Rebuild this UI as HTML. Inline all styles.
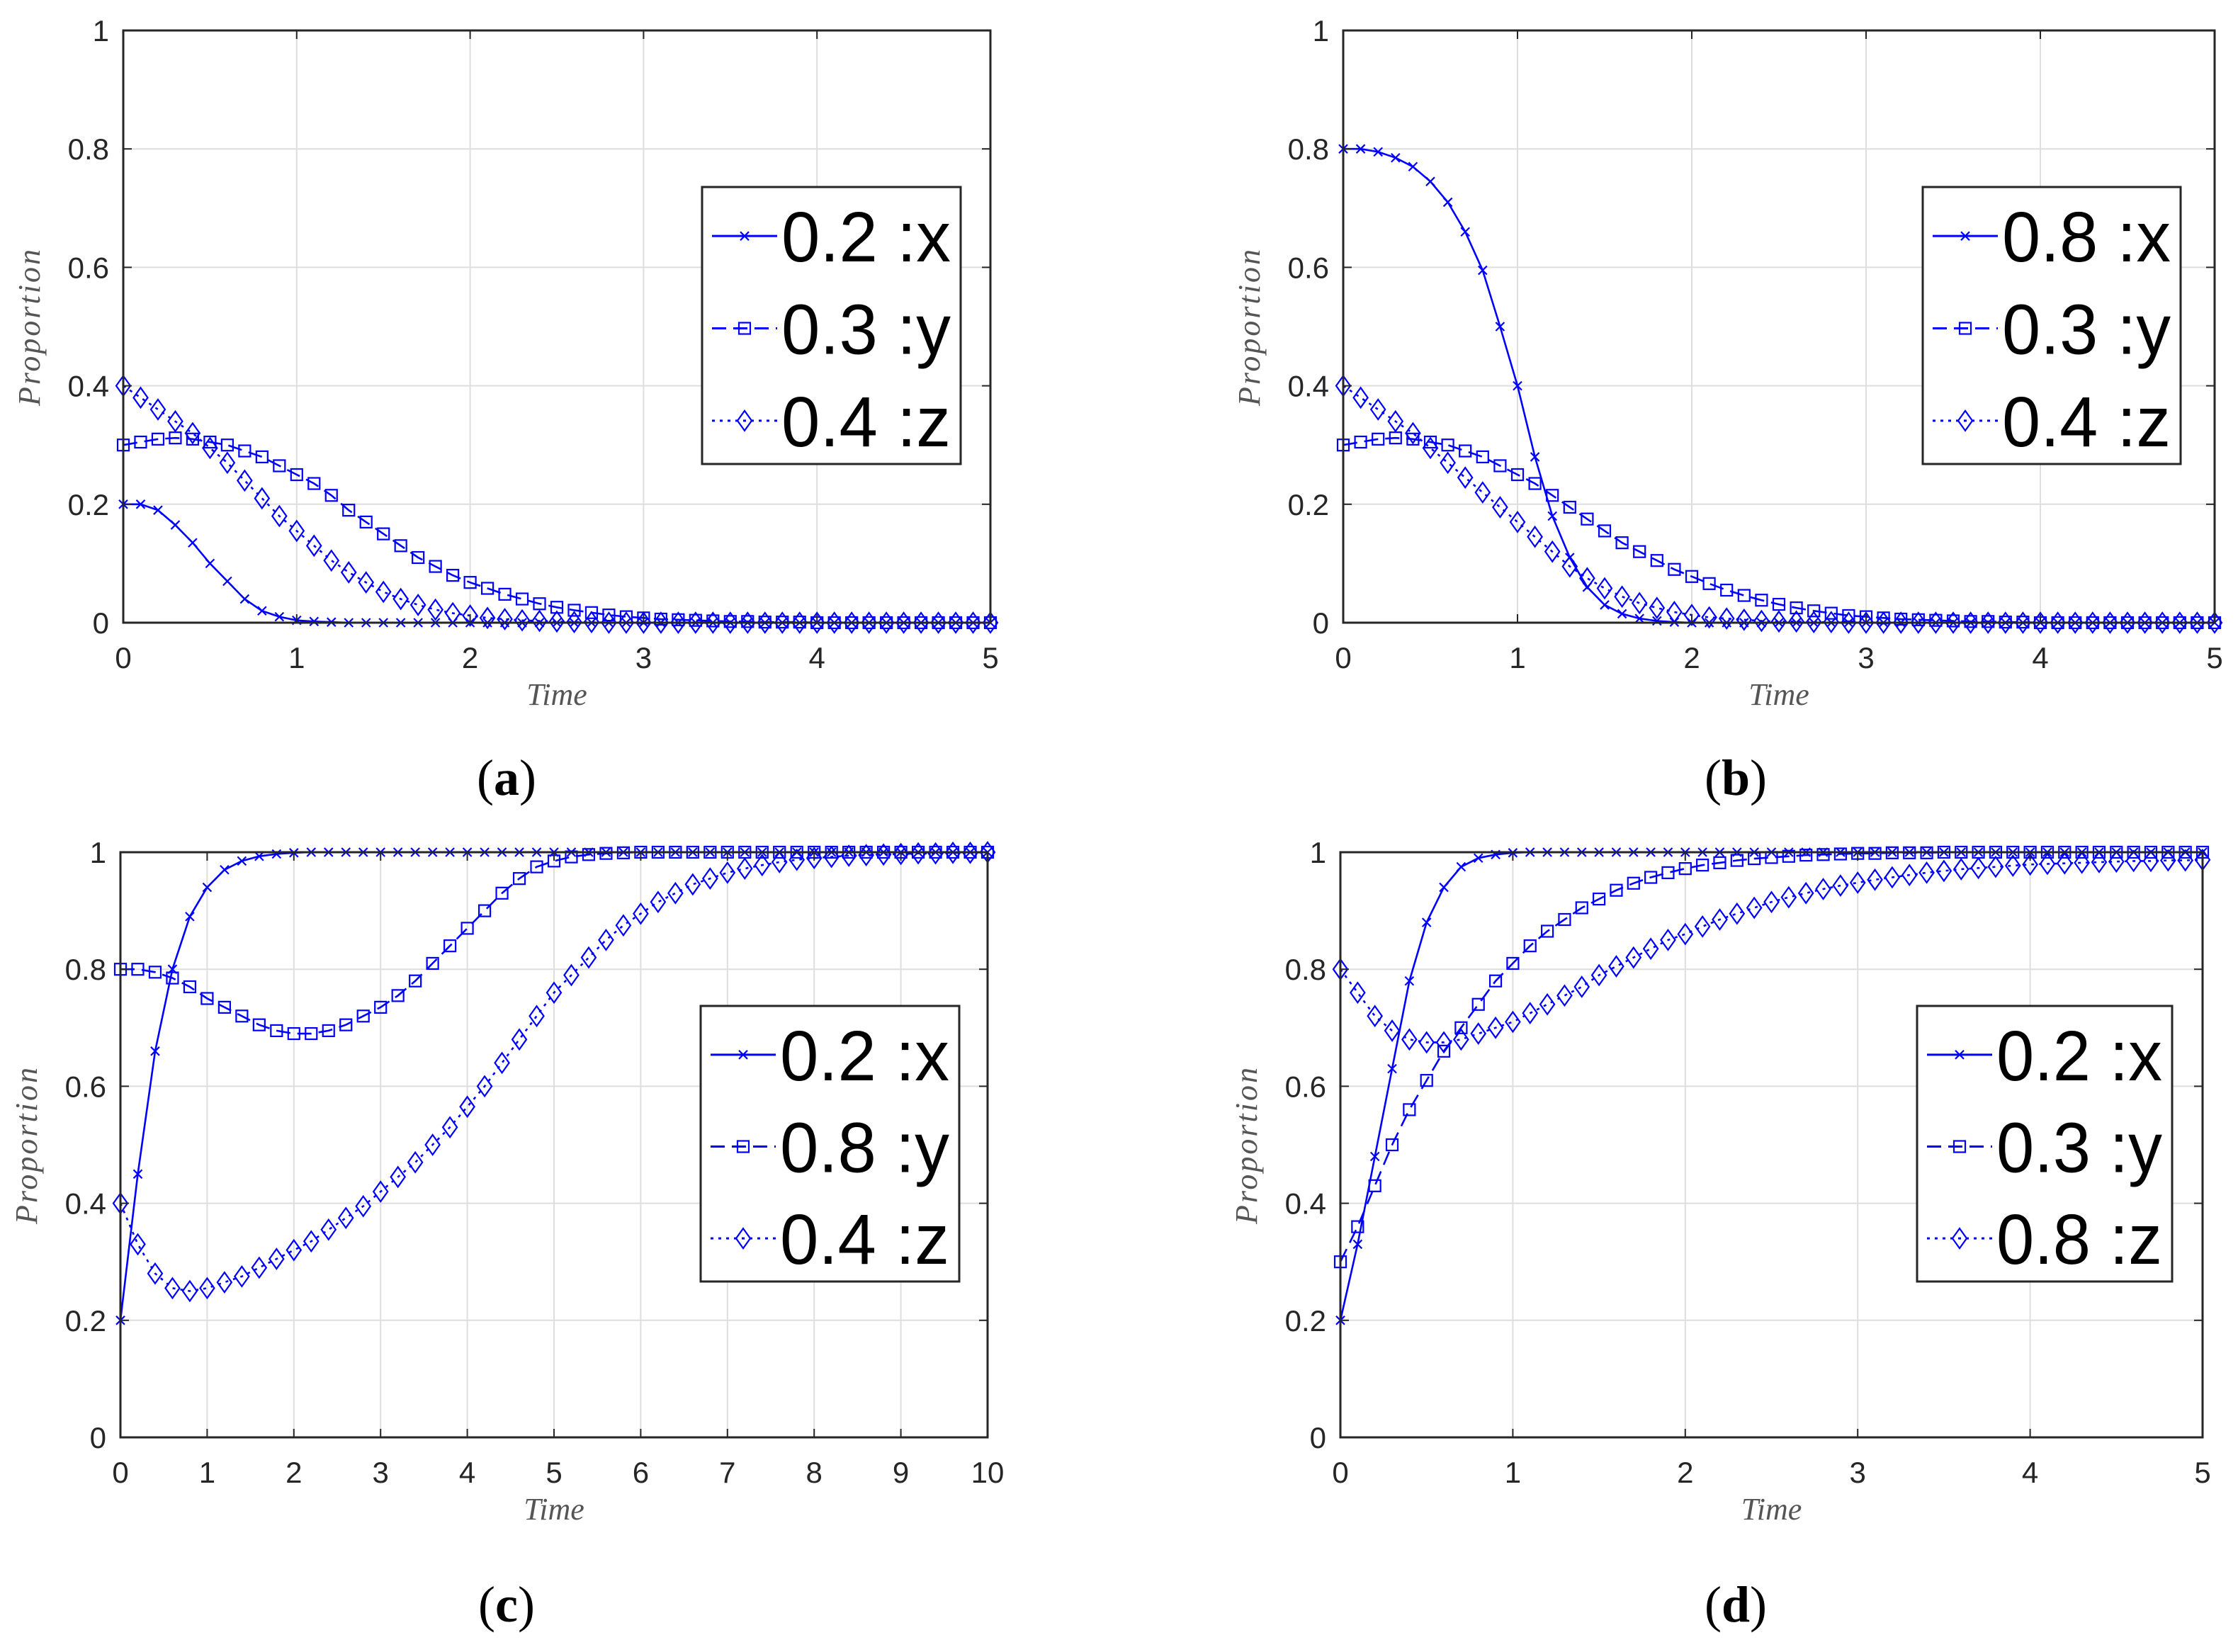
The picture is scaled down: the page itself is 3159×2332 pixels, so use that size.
<!DOCTYPE html>
<html><head><meta charset="utf-8"><style>
html,body{margin:0;padding:0;background:#fff;}
svg{display:block;}
</style></head><body>
<svg id="fig" xmlns="http://www.w3.org/2000/svg" width="3159" height="2332" viewBox="0 0 3159 2332"></svg>
<script>
// ---- data ----
const timeStepAB = 0.1;
const timeStepC = 0.2;
const aLegend = ["0.2 :x", "0.3 :y", "0.4 :z"];
const bLegend = ["0.8 :x", "0.3 :y", "0.4 :z"];
const cLegend = ["0.2 :x", "0.8 :y", "0.4 :z"];
const dLegend = ["0.2 :x", "0.3 :y", "0.8 :z"];
const yTicks = [0, 0.2, 0.4, 0.6, 0.8, 1];
const yTickLabels = ["0", "0.2", "0.4", "0.6", "0.8", "1"];
const xTicks5 = [0, 1, 2, 3, 4, 5];
const xTicks10 = [0, 1, 2, 3, 4, 5, 6, 7, 8, 9, 10];

const aX = [0.2,0.2,0.19,0.165,0.135,0.1,0.07,0.04,0.02,0.01, 0.004,0.002,0.001,0,0,0,0,0,0,0, 0,0,0,0,0,0,0,0,0,0, 0,0,0,0,0,0,0,0,0,0, 0,0,0,0,0,0,0,0,0,0, 0];
const aY = [0.30,0.305,0.31,0.312,0.31,0.305,0.30,0.29,0.28,0.265, 0.25,0.235,0.215,0.19,0.17,0.15,0.13,0.11,0.095,0.08, 0.068,0.058,0.048,0.04,0.032,0.026,0.021,0.017,0.013,0.01, 0.008,0.006,0.005,0.004,0.003,0.002,0.002,0.001,0.001,0.001, 0,0,0,0,0,0,0,0,0,0, 0];
const aZ = [0.40,0.38,0.36,0.34,0.32,0.295,0.27,0.24,0.21,0.18, 0.155,0.13,0.105,0.085,0.068,0.052,0.04,0.03,0.022,0.016, 0.012,0.008,0.006,0.004,0.003,0.002,0.001,0.001,0,0, 0,0,0,0,0,0,0,0,0,0, 0,0,0,0,0,0,0,0,0,0, 0];

const bX = [0.8,0.8,0.795,0.785,0.77,0.745,0.71,0.66,0.595,0.50, 0.40,0.28,0.18,0.11,0.06,0.03,0.015,0.007,0.003,0.001, 0,0,0,0,0,0,0,0,0,0, 0,0,0,0,0,0,0,0,0,0, 0,0,0,0,0,0,0,0,0,0, 0];
const bY = [0.30,0.305,0.31,0.312,0.31,0.305,0.30,0.29,0.28,0.265, 0.25,0.235,0.215,0.195,0.175,0.155,0.135,0.12,0.105,0.09, 0.078,0.066,0.055,0.046,0.038,0.031,0.025,0.02,0.016,0.012, 0.01,0.008,0.006,0.005,0.004,0.003,0.002,0.002,0.001,0.001, 0,0,0,0,0,0,0,0,0,0, 0];
const bZ = [0.40,0.38,0.36,0.34,0.32,0.295,0.27,0.245,0.22,0.195, 0.17,0.145,0.12,0.095,0.075,0.058,0.044,0.033,0.025,0.018, 0.013,0.009,0.007,0.005,0.003,0.002,0.002,0.001,0.001,0, 0,0,0,0,0,0,0,0,0,0, 0,0,0,0,0,0,0,0,0,0, 0];

const cX = [0.2,0.45,0.66,0.80,0.89,0.94,0.97,0.985,0.993,0.997, 0.999,1,1,1,1,1,1,1,1,1, 1,1,1,1,1,1,1,1,1,1, 1,1,1,1,1,1,1,1,1,1, 1,1,1,1,1,1,1,1,1,1, 1];
const cY = [0.80,0.80,0.795,0.785,0.77,0.75,0.735,0.72,0.705,0.695, 0.69,0.69,0.695,0.705,0.72,0.735,0.755,0.78,0.81,0.84, 0.87,0.90,0.93,0.955,0.975,0.985,0.992,0.996,0.998,0.999, 1,1,1,1,1,1,1,1,1,1, 1,1,1,1,1,1,1,1,1,1, 1];
const cZ = [0.40,0.33,0.28,0.255,0.25,0.255,0.265,0.275,0.29,0.305, 0.32,0.335,0.355,0.375,0.395,0.42,0.445,0.47,0.50,0.53, 0.565,0.60,0.64,0.68,0.72,0.76,0.79,0.82,0.85,0.875, 0.895,0.915,0.93,0.945,0.955,0.965,0.972,0.978,0.983,0.987, 0.99,0.992,0.994,0.995,0.996,0.997,0.998,0.998,0.999,0.999, 1];

const dX = [0.2,0.33,0.48,0.63,0.78,0.88,0.94,0.975,0.99,0.996, 0.999,1,1,1,1,1,1,1,1,1, 1,1,1,1,1,1,1,1,1,1, 1,1,1,1,1,1,1,1,1,1, 1,1,1,1,1,1,1,1,1,1, 1];
const dY = [0.30,0.36,0.43,0.50,0.56,0.61,0.66,0.70,0.74,0.78, 0.81,0.84,0.865,0.885,0.905,0.92,0.935,0.947,0.957,0.965, 0.972,0.978,0.982,0.986,0.989,0.991,0.993,0.995,0.996,0.997, 0.998,0.998,0.999,0.999,0.999,1,1,1,1,1, 1,1,1,1,1,1,1,1,1,1, 1];
const dZ = [0.80,0.76,0.72,0.695,0.68,0.675,0.675,0.68,0.69,0.70, 0.71,0.725,0.74,0.755,0.77,0.79,0.805,0.82,0.835,0.85, 0.86,0.873,0.885,0.895,0.905,0.915,0.923,0.93,0.937,0.943, 0.948,0.953,0.957,0.961,0.965,0.968,0.971,0.973,0.975,0.977, 0.979,0.98,0.981,0.982,0.983,0.984,0.985,0.985,0.986,0.986, 0.987];

// ---- drawing ----
const NS = "http://www.w3.org/2000/svg";
const svg = document.getElementById("fig");
const BLUE = "#0000ff";
function mk(tag, attrs, parent) {
  const e = document.createElementNS(NS, tag);
  for (const k in attrs) e.setAttribute(k, attrs[k]);
  (parent || svg).appendChild(e);
  return e;
}
function marker(g, kind, x, y) {
  let m;
  if (kind === "x") {
    m = mk("path", {d: `M${x-6},${y-6}L${x+6},${y+6}M${x-6},${y+6}L${x+6},${y-6}`, stroke: BLUE, "stroke-width": 2.2, fill: "none"}, g);
  } else if (kind === "s") {
    m = mk("rect", {x: x-8, y: y-8, width: 16, height: 16, stroke: BLUE, "stroke-width": 2.2, fill: "none"}, g);
  } else {
    m = mk("path", {d: `M${x},${y-14}L${x+10},${y}L${x},${y+14}L${x-10},${y}Z`, stroke: BLUE, "stroke-width": 2.2, fill: "none"}, g);
  }
  
  
}
const styles = [
  {kind: "x", dash: null},
  {kind: "s", dash: "20,10"},
  {kind: "d", dash: "4,7"}
];
function panel(id, box, xMax, xTicks, step, series, legendText, legendBox, caption) {
  const g = mk("g", {});
  
  
  const sx = v => box.L + (v / xMax) * (box.R - box.L);
  const sy = v => box.B - v * (box.B - box.T);
  // grid
  xTicks.forEach(t => {
    if (t > 0 && t < xMax) {
      const l = mk("line", {x1: sx(t), x2: sx(t), y1: box.T, y2: box.B, stroke: "#dedede", "stroke-width": 2}, g);
      
      
    }
  });
  yTicks.forEach(t => {
    if (t > 0 && t < 1) {
      const l = mk("line", {x1: box.L, x2: box.R, y1: sy(t), y2: sy(t), stroke: "#dedede", "stroke-width": 2}, g);
      
      
    }
  });
  // series lines + markers
  series.forEach((vals, si) => {
    const pts = vals.map((v, i) => `${sx(i * step).toFixed(1)},${sy(v).toFixed(1)}`).join(" ");
    const pl = mk("polyline", {points: pts, fill: "none", stroke: BLUE, "stroke-width": 2.6}, g);
    if (styles[si].dash) pl.setAttribute("stroke-dasharray", styles[si].dash);
    
    
    vals.forEach((v, i) => marker(g, styles[si].kind, sx(i * step), sy(v)));
  });
  // axes box
  const frame = mk("rect", {x: box.L, y: box.T, width: box.R - box.L, height: box.B - box.T, fill: "none", stroke: "#262626", "stroke-width": 3}, g);
  
  
  // ticks and labels
  xTicks.forEach(t => {
    mk("line", {x1: sx(t), x2: sx(t), y1: box.B, y2: box.B - 12, stroke: "#262626", "stroke-width": 2}, g);
    mk("line", {x1: sx(t), x2: sx(t), y1: box.T, y2: box.T + 12, stroke: "#262626", "stroke-width": 2}, g);
    const tx = mk("text", {x: sx(t), y: box.B + 64, "text-anchor": "middle", "font-family": "Liberation Sans, sans-serif", "font-size": 42, fill: "#262626"}, g);
    tx.textContent = String(t);
    
    
  });
  yTicks.forEach((t, i) => {
    mk("line", {x1: box.L, x2: box.L + 12, y1: sy(t), y2: sy(t), stroke: "#262626", "stroke-width": 2}, g);
    mk("line", {x1: box.R, x2: box.R - 12, y1: sy(t), y2: sy(t), stroke: "#262626", "stroke-width": 2}, g);
    const ty = mk("text", {x: box.L - 20, y: sy(t) + 15, "text-anchor": "end", "font-family": "Liberation Sans, sans-serif", "font-size": 42, fill: "#262626"}, g);
    ty.textContent = yTickLabels[i];
    
    
  });
  // axis titles
  const xt = mk("text", {x: (box.L + box.R) / 2, y: box.B + 116, "text-anchor": "middle", "font-family": "Liberation Serif, serif", "font-style": "italic", "font-size": 44, fill: "#555"}, g);
  xt.textContent = "Time";
  
  
  const yx = box.L - 118, yy = (box.T + box.B) / 2;
  const yt = mk("text", {x: yx, y: yy, transform: `rotate(-90 ${yx} ${yy})`, "text-anchor": "middle", "font-family": "Liberation Serif, serif", "font-style": "italic", "font-size": 44, fill: "#555", "letter-spacing": 3}, g);
  yt.textContent = "Proportion";
  
  
  // legend
  const lg = mk("g", {}, g);
  
  
  mk("rect", {x: legendBox.x, y: legendBox.y, width: legendBox.w, height: legendBox.h, fill: "#fff", stroke: "#262626", "stroke-width": 3}, lg);
  const rowH = legendBox.h / 3;
  legendText.forEach((txt, i) => {
    const cy = legendBox.y + rowH * (i + 0.5) + 4;
    const x1 = legendBox.x + 14, x2 = legendBox.x + 106;
    const ln = mk("line", {x1: x1, x2: x2, y1: cy, y2: cy, stroke: BLUE, "stroke-width": 3}, lg);
    if (styles[i].dash) ln.setAttribute("stroke-dasharray", i === 1 ? "20,10" : "4,7");
    
    
    marker(lg, styles[i].kind, (x1 + x2) / 2, cy);
    const t = mk("text", {x: legendBox.x + 112, y: cy + 36, "font-family": "Liberation Sans, sans-serif", "font-size": 100, fill: "#000", textLength: legendBox.w - 126, lengthAdjust: "spacingAndGlyphs"}, lg);
    t.textContent = txt;
    
    
  });
  // caption
  const cp = mk("text", {x: caption.x, y: caption.y, "text-anchor": "middle", "font-family": "Liberation Serif, serif", "font-size": 72, fill: "#000"}, g);
  cp.innerHTML = '(<tspan font-weight="bold">' + id + '</tspan>)';
  
  
}

panel("a", {L: 174, R: 1398, T: 43, B: 879}, 5, xTicks5, timeStepAB, [aX, aY, aZ], aLegend, {x: 991, y: 264, w: 365, h: 391}, {x: 715, y: 1122});
panel("b", {L: 1896, R: 3126, T: 43, B: 879}, 5, xTicks5, timeStepAB, [bX, bY, bZ], bLegend, {x: 2714, y: 264, w: 364, h: 391}, {x: 2450, y: 1122});
panel("c", {L: 170, R: 1394, T: 1203, B: 2029}, 10, xTicks10, timeStepC, [cX, cY, cZ], cLegend, {x: 989, y: 1420, w: 365, h: 389}, {x: 715, y: 2289});
panel("d", {L: 1892, R: 3109, T: 1203, B: 2029}, 5, xTicks5, timeStepAB, [dX, dY, dZ], dLegend, {x: 2706, y: 1420, w: 360, h: 389}, {x: 2450, y: 2289});
</script>
</body></html>
